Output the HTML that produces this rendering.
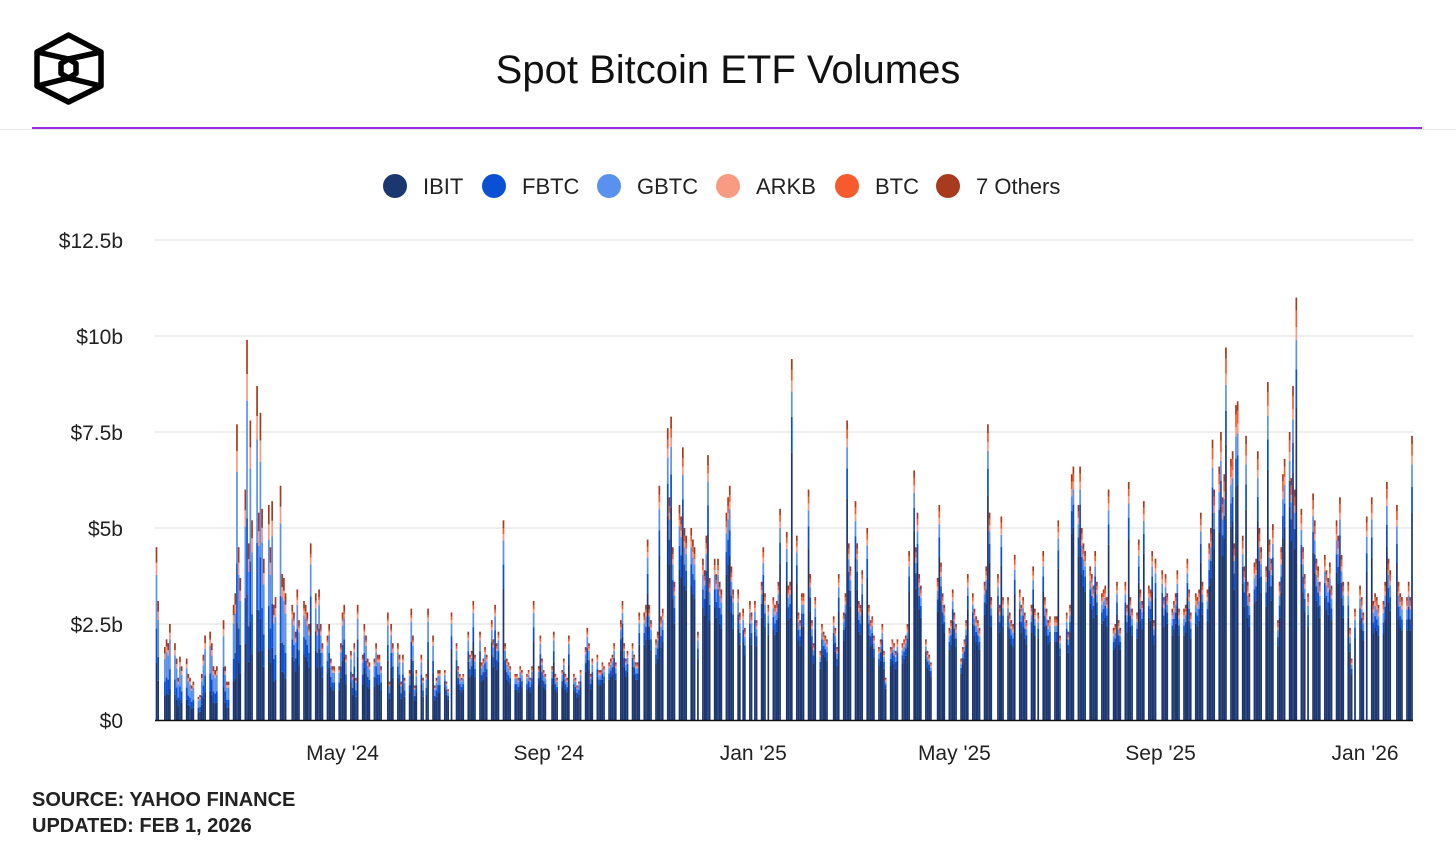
<!DOCTYPE html>
<html><head><meta charset="utf-8"><title>Spot Bitcoin ETF Volumes</title>
<style>
html,body{margin:0;padding:0;background:#fff;}
body{width:1456px;height:849px;position:relative;overflow:hidden;font-family:"Liberation Sans",sans-serif;color:#111;}
.title{position:absolute;left:0;width:1456px;top:48px;text-align:center;font-size:40px;color:#111;}
.hdr-line{position:absolute;left:0;width:1456px;top:129px;height:1px;background:#e6e6e6;}
.purple{position:absolute;left:32px;width:1390px;top:127px;height:2px;background:#9a2ee6;}
.src{position:absolute;left:32px;font-size:20px;font-weight:bold;color:#222;}
</style></head>
<body>
<svg style="position:absolute;left:30px;top:30px" width="80" height="80" viewBox="30 30 80 80">
<g fill="none" stroke="#000" stroke-width="5.5" stroke-linejoin="round">
<polygon points="68.5,35 101,52 101,86 68.5,102 37,86 37,52"/>
<polygon points="68.5,59 76,63.5 76,73.5 68.5,78 61,73.5 61,63.5"/>
<line x1="37" y1="52" x2="68.5" y2="59"/><line x1="101" y1="52" x2="68.5" y2="59"/>
<line x1="37" y1="86" x2="68.5" y2="78"/><line x1="101" y1="86" x2="68.5" y2="78"/>
</g></svg>
<div class="title">Spot Bitcoin ETF Volumes</div>
<div class="hdr-line"></div>
<div class="purple"></div>
<svg id="chart" style="position:absolute;left:0;top:0" width="1456" height="849"></svg>
<div class="src" style="top:789px">SOURCE: YAHOO FINANCE</div>
<div class="src" style="top:815px">UPDATED: FEB 1, 2026</div>
<script>
const seriesNames=["IBIT","FBTC","GBTC","ARKB","BTC","7 Others"];
const seriesColors=["#1c3670","#0a4fd4","#5b91ee","#f99a82","#f75a2c","#a83a1e"];
const yTicks=[0,2.5,5,7.5,10,12.5];
const yTickLabels=["$0","$2.5b","$5b","$7.5b","$10b","$12.5b"];
const xTickDates=["2024-05-01","2024-09-01","2025-01-01","2025-05-01","2025-09-01","2026-01-01"];
const xTickLabels=["May '24","Sep '24","Jan '25","May '25","Sep '25","Jan '26"];
const startDate="2024-01-11";
// daily total volume ($b), trading days from startDate
const totals=[4.5,3.1,
0,1.9,2.1,2.0,2.5, 2.0,1.6,1.1,1.65,1.4, 1.6,1.2,1.1,0.9,1.0, 0.6,0.65,1.2,1.7,2.2, 2.3,2.0,1.4,1.3,1.4,
0,2.6,1.4,1.0,1.0, 3.0,3.3,7.7,4.5,3.7, 6.0,9.9,4.6,7.8,5.2, 8.7,5.4,8.0,5.5,4.2, 5.6,4.5,5.7,3.0,3.2,
6.1,3.8,3.7,3.3,0, 3.0,2.8,2.3,3.4,2.6, 3.1,3.0,2.8,2.5,4.6, 3.3,2.5,3.4,2.5,2.0, 2.2,2.5,1.6,1.4,1.4,
1.4,2.0,2.8,3.0,1.7, 1.8,1.2,2.0,1.1,3.0, 1.7,2.5,2.2,1.6,1.5, 1.6,2.0,1.7,1.7,1.4, 0,2.8,1.0,2.5,2.0,
2.0,1.7,1.0,1.7,1.1, 1.3,2.9,2.2,0.9,1.3, 1.7,1.1,0,1.2,2.9, 2.2,0.9,1.1,1.3,1.3, 1.3,1.0,0.8,0,2.8,
2.0,1.4,1.2,1.1,1.2, 2.3,1.7,1.8,3.1,1.7, 2.3,1.5,1.6,1.9,1.7, 2.6,2.1,3.0,2.0,2.3, 5.2,2.0,1.6,1.5,1.4,
1.2,1.2,1.1,1.4,1.3, 1.2,1.3,1.1,1.4,3.1, 1.4,2.2,1.6,1.3,1.2, 0,1.4,2.3,1.2,1.1, 1.3,1.6,1.2,1.1,2.2,
1.2,1.1,0.9,1.0,1.3, 1.9,2.4,2.0,1.2,1.6, 1.7,1.3,1.3,1.5,1.4, 1.5,1.6,1.7,2.0,1.5, 2.6,3.1,2.0,1.6,1.8,
2.0,1.7,1.5,1.5,2.8, 2.8,3.0,4.7,3.0,2.6, 2.1,2.3,6.1,2.7,2.9, 7.6,5.8,7.9,4.5,3.6, 5.6,5.3,7.1,5.0,4.8,
5.0,4.7,4.5,0,2.3, 4.2,3.9,4.8,6.9,3.7, 4.2,3.8,4.2,3.6,3.4, 5.4,5.8,6.1,4.0,3.4, 3.4,2.8,0,2.9,2.4,
3.1,2.8,0,3.1,2.6, 3.6,4.5,3.3,0,3.0, 3.2,3.0,3.1,3.6,5.5, 0,4.9,3.5,3.6,9.4, 4.8,2.8,2.6,3.3,3.3,
6.0,3.8,2.6,2.0,3.2, 1.8,2.5,2.3,2.2,2.1, 0,2.7,2.4,1.9,3.8, 2.8,3.3,7.8,4.6,4.0, 5.7,4.6,3.1,3.0,3.9,
5.0,3.0,2.6,2.7,2.2, 1.9,2.1,2.5,1.8,1.1, 1.9,2.1,2.0,1.8,2.1, 2.0,2.1,2.2,2.5,4.4, 6.5,4.5,5.4,3.8,3.5,
2.1,1.8,1.7,1.5,0, 3.7,5.6,4.1,3.3,3.0, 2.4,2.6,3.4,2.8,2.5, 1.6,1.9,2.1,2.6,3.8, 3.3,2.9,2.7,2.6,2.4,
3.6,4.0,7.7,5.4,3.2, 0,3.8,3.0,5.3,3.2, 3.2,2.8,2.6,2.5,4.3, 3.4,3.0,3.2,2.8,2.6, 3.0,4.0,2.9,0,2.8,
4.4,3.2,2.9,2.6,2.7, 2.7,2.7,5.2,2.2,0, 2.8,2.3,3.0,6.4,6.6, 5.6,6.6,5.0,4.6,4.4, 4.0,3.8,3.5,4.4,3.6,
3.3,3.4,3.5,3.2,6.0, 2.4,2.5,3.6,2.6,2.4, 3.6,3.0,6.2,3.2,2.9, 2.8,4.7,3.4,3.1,5.7, 3.5,3.4,4.4,2.6,4.2,
0,3.9,3.2,3.8,3.3, 2.9,3.1,3.3,3.9,2.9, 2.9,3.0,4.2,3.4,2.8, 3.3,3.2,3.4,5.4,3.6, 3.4,4.6,5.0,7.3,6.0,
6.6,7.5,5.8,6.4,9.7, 6.8,7.0,4.6,8.2,8.3, 4.8,4.0,7.4,3.6,3.3, 4.1,4.2,7.0,5.0,4.5, 4.0,8.8,4.7,4.2,5.1,
2.6,3.6,4.5,6.4,6.8, 7.5,6.3,8.7,6.0,11.0, 5.5,4.5,3.8,0,3.3, 5.9,5.2,4.2,4.0,3.6, 4.3,3.9,3.7,4.1,3.5,
5.2,4.8,5.8,4.3,3.6, 3.6,2.4,1.6,0,2.9, 3.5,3.2,2.8,0,5.3, 5.8,3.1,3.3,3.2,3.0, 3.1,3.6,6.2,4.2,3.9,
0,5.6,3.6,3.3,3.2, 3.2,3.6,3.2,7.4];
// quarterly share of volume per fund (Q1'24 .. Q1'26)
const quarters=["Q1'24","Q2'24","Q3'24","Q4'24","Q1'25","Q2'25","Q3'25","Q4'25","Q1'26"];
const shareIBIT=[0.33,0.55,0.66,0.70,0.74,0.76,0.76,0.74,0.73];
const shareFBTC=[0.20,0.15,0.12,0.11,0.10,0.09,0.09,0.09,0.09];
const shareGBTC=[0.31,0.18,0.12,0.09,0.07,0.06,0.06,0.07,0.08];
const shareARKB=[0.07,0.04,0.03,0.03,0.03,0.03,0.03,0.03,0.03];
const shareBTC=[0.00,0.02,0.03,0.03,0.03,0.03,0.03,0.04,0.04];
const shareOthers=[0.09,0.06,0.04,0.04,0.03,0.03,0.03,0.03,0.03];

const NS="http://www.w3.org/2000/svg";
const svg=document.getElementById("chart");
const X0=156.5,X1=1412,Y0=720,Y1=240,PL=155,PR=1413;
const DAY=86400000;
const t0=Date.UTC(2024,0,11),t1=Date.UTC(2026,0,29);
function xScale(t){return X0+(t-t0)/(t1-t0)*(X1-X0);}
function yScale(v){return Y0-(v/12.5)*(Y0-Y1);}
function mk(tag,attrs){const e=document.createElementNS(NS,tag);for(const k in attrs)e.setAttribute(k,attrs[k]);svg.appendChild(e);return e;}

yTicks.forEach((v,i)=>{
  if(v>0){const g=mk("line",{x1:PL,x2:PR,y1:yScale(v),y2:yScale(v),stroke:"#e8e8e8","stroke-width":1.5});
  
  }
  const t=mk("text",{x:123,y:yScale(v)+8,"text-anchor":"end","font-size":21,fill:"#222","font-family":"Liberation Sans, sans-serif"});
  t.textContent=yTickLabels[i];
  
  
});
xTickDates.forEach((d,i)=>{
  const p=d.split("-").map(Number);
  const t=mk("text",{x:xScale(Date.UTC(p[0],p[1]-1,p[2])),y:760,"text-anchor":"middle","font-size":21,fill:"#222","font-family":"Liberation Sans, sans-serif"});
  t.textContent=xTickLabels[i];
  
  
});
const shares=[shareIBIT,shareFBTC,shareGBTC,shareARKB,shareBTC,shareOthers];
let t=t0;
const bw=1.7;
for(let i=0;i<totals.length;i++){
  while(new Date(t).getUTCDay()===0||new Date(t).getUTCDay()===6)t+=DAY;
  const d=new Date(t);
  const q=(d.getUTCFullYear()-2024)*4+Math.floor(d.getUTCMonth()/3);
  const x=xScale(t);
  let cum=0;
  for(let s=0;s<6;s++){
    const v=totals[i]*shares[s][q];
    if(v<=0)continue;
    const yTop=yScale(cum+v),yBot=yScale(cum);
    const r=mk("rect",{x:(x-bw/2).toFixed(2),y:yTop.toFixed(2),width:bw,height:(yBot-yTop).toFixed(2),fill:seriesColors[s]});
    
    
    cum+=v;
  }
  t+=DAY;
}
const bl=mk("line",{x1:PL,x2:PR,y1:Y0+0.5,y2:Y0+0.5,stroke:"#111","stroke-width":1.5});


const legX=[395,494,609,728,847,948];
seriesNames.forEach((n,i)=>{
  const c=mk("circle",{cx:legX[i],cy:186,r:12,fill:seriesColors[i]});
  
  
  const tx=mk("text",{x:legX[i]+28,y:194,"font-size":22,fill:"#222","font-family":"Liberation Sans, sans-serif"});
  tx.textContent=n;
  
  
});
</script>
</body></html>
